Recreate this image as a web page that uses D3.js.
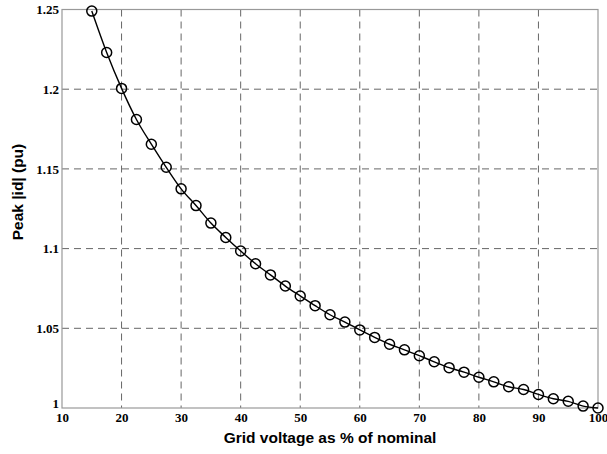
<!DOCTYPE html>
<html><head><meta charset="utf-8">
<script src="https://cdn.jsdelivr.net/npm/d3@7"></script>
<style>body{margin:0;background:#fff;}svg{display:block;}</style>
</head><body>
<svg id="c" width="607" height="454"></svg>
<script>
const xValues = [15,17.5,20,22.5,25,27.5,30,32.5,35,37.5,40,42.5,45,47.5,50,52.5,55,57.5,60,62.5,65,67.5,70,72.5,75,77.5,80,82.5,85,87.5,90,92.5,95,97.5,100];
const yValues = [1.249,1.223,1.2005,1.181,1.1655,1.151,1.1375,1.127,1.116,1.107,1.0985,1.0905,1.0835,1.0765,1.0703,1.0642,1.0585,1.0539,1.049,1.0443,1.0400,1.0365,1.0328,1.0290,1.0253,1.0225,1.0193,1.0164,1.0133,1.0116,1.0085,1.0058,1.0042,1.0012,1.0000];
const xTicks = [10,20,30,40,50,60,70,80,90,100];
const yTicks = [1,1.05,1.1,1.15,1.2,1.25];
const yTickLabels = ["1","1.05","1.1","1.15","1.2","1.25"];
const xTitle = "Grid voltage as % of nominal";
const yTitle = "Peak |id| (pu)";

const svg = d3.select("#c");
const L = 62, R = 598, T = 9.5, B = 408;
const x = d3.scaleLinear().domain([10,100]).range([L,R]);
const y = d3.scaleLinear().domain([1,1.25]).range([B,T]);
const SERIF = "Liberation Serif";
const SANS = "Liberation Sans";

// grid
const g = svg.append("g");
g.selectAll("line.vx").data(xTicks.slice(1,-1)).join("line")
  .attr("x1",d=>x(d)).attr("x2",d=>x(d)).attr("y1",T).attr("y2",B)
  .attr("stroke","#666").attr("stroke-width",1).attr("stroke-dasharray","7,5");
g.selectAll("line.hy").data(yTicks.slice(1,-1)).join("line")
  .attr("x1",L).attr("x2",R).attr("y1",d=>y(d)).attr("y2",d=>y(d))
  .attr("stroke","#666").attr("stroke-width",1).attr("stroke-dasharray","7,5");

// frame
svg.append("rect").attr("x",L).attr("y",T).attr("width",R-L).attr("height",B-T)
  .attr("fill","none").attr("stroke","#999").attr("stroke-width",1.2);

// axes tick labels
const xAxis = d3.axisBottom(x).tickValues(xTicks).tickSize(0).tickPadding(5).tickFormat(d3.format("d"));
const xa = svg.append("g").attr("transform",`translate(0,${B})`).call(xAxis)
  .attr("font-family",SERIF).attr("font-size",13).attr("font-weight","bold");
xa.select(".domain").remove();
xa.selectAll("text").attr("fill","#000").attr("font-family",SERIF).style("font-family",SERIF).style("font-weight","bold");

const yAxis = d3.axisLeft(y).tickValues(yTicks).tickSize(0).tickPadding(3).tickFormat((d,i)=>yTickLabels[i]);
const ya = svg.append("g").attr("transform",`translate(${L},0)`).call(yAxis)
  .attr("font-family",SERIF).attr("font-size",13).attr("font-weight","bold");
ya.select(".domain").remove();
ya.selectAll("text").attr("fill","#000").attr("font-family",SERIF).style("font-family",SERIF).style("font-weight","bold")
  .attr("dy",(d,i)=> i===0 ? "-0.05em" : "0.32em");

// line
const line = d3.line().x((d,i)=>x(xValues[i])).y(d=>y(d)).curve(d3.curveMonotoneX);
svg.append("path").datum(yValues).attr("d",line).attr("fill","none").attr("stroke","#000").attr("stroke-width",1.4);

svg.selectAll("circle.pt").data(yValues).join("circle")
  .attr("cx",(d,i)=>x(xValues[i])).attr("cy",d=>y(d)).attr("r",5)
  .attr("fill","none").attr("stroke","#000").attr("stroke-width",1.5);

// titles
svg.append("text").attr("x",(L+R)/2).attr("y",443).attr("text-anchor","middle")
  .attr("font-family",SANS).attr("font-weight","bold").attr("font-size",15.5).text(xTitle);
svg.append("text").attr("transform","translate(23,192) rotate(-90)").attr("text-anchor","middle")
  .attr("font-family",SANS).attr("font-weight","bold").attr("font-size",15.5).text(yTitle);
</script>
</body></html>
